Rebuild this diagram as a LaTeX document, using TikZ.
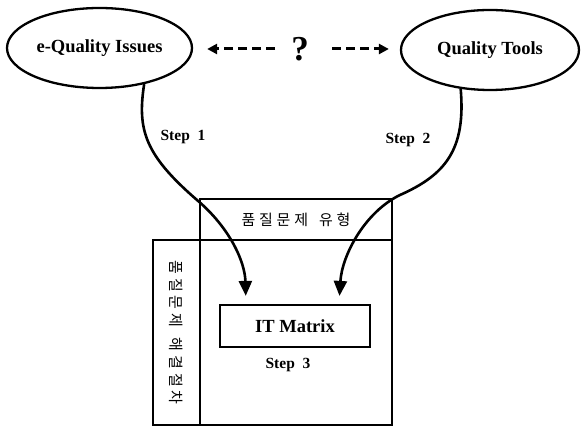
\documentclass[tikz,border=0pt]{standalone}
\usepackage{fontspec}
\setmainfont{Liberation Serif}
\newfontfamily\kr{Noto Sans CJK KR}
\usetikzlibrary{shapes.geometric,arrows.meta,calc}
\newcommand{\ks}{\kern3.8pt}
\begin{document}
\begin{tikzpicture}[x=1pt,y=-1pt,
  oval/.style={draw,ellipse,line width=2.3pt,inner sep=0pt,font=\fontsize{18.5}{21}\selectfont\bfseries},
  boxline/.style={draw,line width=2.6pt,inner sep=0pt},
  krtext/.style={font=\kr\fontsize{15}{17}\selectfont},
  steplabel/.style={font=\fontsize{15.5}{18}\selectfont\bfseries},
  flow/.style={line width=2.6pt,-{Triangle[length=15pt,width=13pt]}},
  dasharrow/.style={line width=3pt,dash pattern=on 9pt off 5pt,-{Triangle[length=10pt,width=10pt]}}]
\useasboundingbox (0,0) rectangle (581,435);
\node[oval,minimum width=185,minimum height=80] (e1) at (99.5,48) {e-Quality Issues};
\node[oval,minimum width=178,minimum height=80] (e2) at (490,50) {Quality Tools};
\node[font=\fontsize{35}{37}\selectfont\bfseries,inner sep=0pt] (q) at (300,49) {?};
\draw[dasharrow,shorten <=25pt,shorten >=14pt] (q.center) -- (q.center -| e1.east);
\draw[dasharrow,shorten <=32pt,shorten >=11pt] (q.center) -- (q.center -| e2.west);
% boxes
\node[boxline,minimum width=239,minimum height=185] (big) at (272.5,332.5) {};
\node[boxline,minimum width=192,minimum height=41,krtext] (type) at (296,219.5) {품\ks 질\ks 문\ks 제\ks\ \ks 유\ks 형};
\node[boxline,minimum width=185,minimum height=47,rotate=-90,krtext] (proc) at (176.5,332.5) {품\ks 질\ks 문\ks 제\ks\ \ks 해\ks 결\ks 절\ks 차};
\node[draw,line width=2.2pt,minimum width=150,minimum height=42,font=\fontsize{18.5}{21}\selectfont\bfseries] (itm) at (295,326) {IT Matrix};
\node[steplabel] (s3) at (288,365) {Step\ \ 3};
\node[steplabel] (s1) at (183,137) {Step\ \ 1};
\node[steplabel] (s2) at (408,140) {Step\ \ 2};
% flows
\draw[flow,shorten >=8pt] (e1.-39) .. controls (137,130) and (145,155) .. (197,200)
   .. controls (230,228) and (245,262) .. ([xshift=27]itm.north west);
\draw[flow,shorten >=8pt] (e2.-127.5) .. controls (466,150) and (445,175) .. (400,195)
   .. controls (365,212) and (342,255) .. ([xshift=44]itm.north);
\end{tikzpicture}
\end{document}
